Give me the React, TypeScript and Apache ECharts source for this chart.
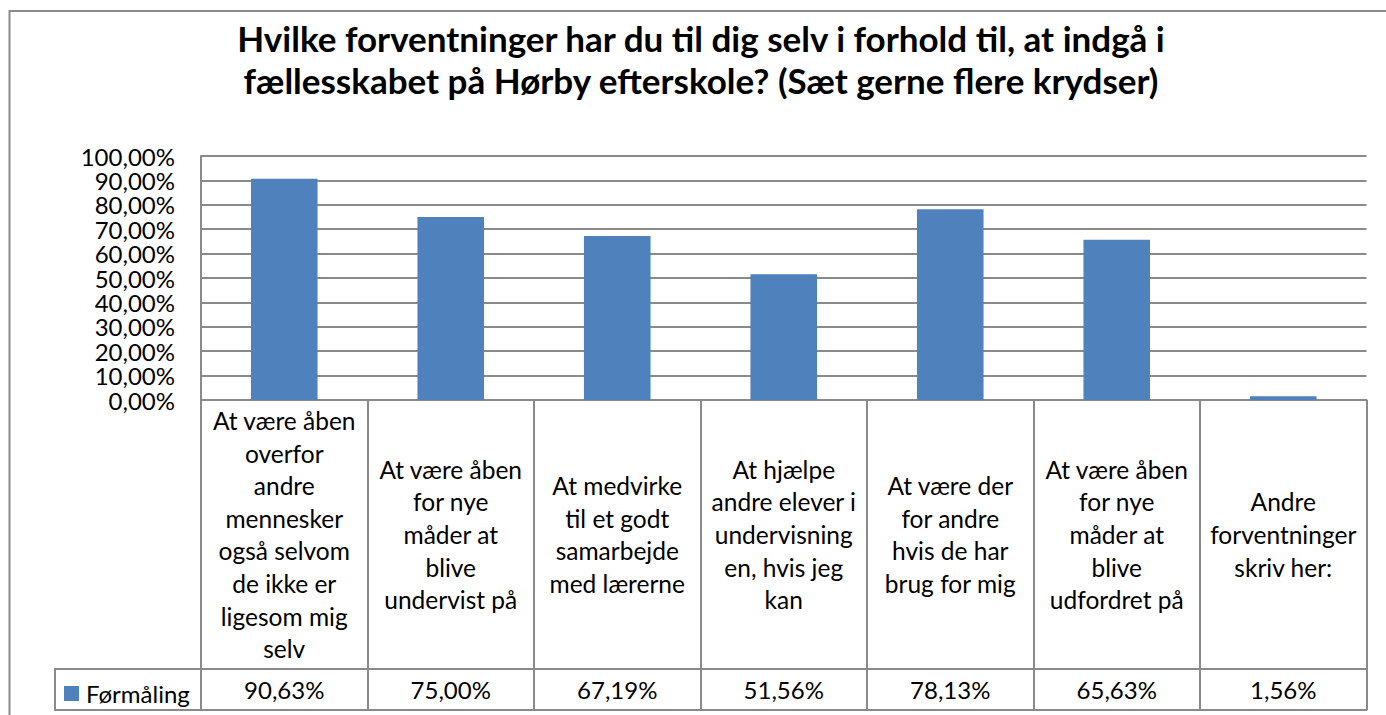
import React, { useEffect, useRef } from "react";
import * as echarts from "echarts";

const titleText =
  "Hvilke forventninger har du til dig selv i forhold til, at indgå i\nfællesskabet på Hørby efterskole? (Sæt gerne flere krydser)";
const seriesName = "Førmåling";
const categories = [
  "At være åben\noverfor\nandre\nmennesker\nogså selvom\nde ikke er\nligesom mig\nselv",
  "At være åben\nfor nye\nmåder at\nblive\nundervist på",
  "At medvirke\ntil et godt\nsamarbejde\nmed lærerne",
  "At hjælpe\nandre elever i\nundervisning\nen, hvis jeg\nkan",
  "At være der\nfor andre\nhvis de har\nbrug for mig",
  "At være åben\nfor nye\nmåder at\nblive\nudfordret på",
  "Andre\nforventninger\nskriv her:",
];
const values = [90.63, 75.0, 67.19, 51.56, 78.13, 65.63, 1.56];
const yTicks = [0, 10, 20, 30, 40, 50, 60, 70, 80, 90, 100];

const fmt = (v: number) => v.toFixed(2).replace(".", ",") + "%";

const GRAY = "#8a8a8a";
const FONT = "Lato, 'Noto Sans', sans-serif";
const PLOT_L = 201;
const PLOT_R = 1366.5;
const PLOT_T = 156;
const PLOT_B = 400;
const ROW1 = 669;
const ROW2 = 710;
const LEG_L = 55;

export default function App() {
  const ref = useRef<HTMLDivElement>(null);
  useEffect(() => {
    if (!ref.current) return;
    const chart = echarts.init(ref.current, null, { renderer: "svg" });
    chart.setOption({
      animation: false,
      backgroundColor: "#fff",
      title: {
        text: titleText,
        left: 696,
        top: 12,
        textAlign: "center",
        textStyle: {
          fontFamily: FONT,
          fontWeight: "bold",
          fontSize: 35,
          lineHeight: 42,
          color: "#000",
        },
      },
      legend: {
        left: 64,
        top: ROW1 + (ROW2 - ROW1) / 2 - 8,
        padding: 0,
        itemWidth: 15,
        itemHeight: 15,
        icon: "rect",
        itemGap: 0,
        textStyle: { fontFamily: FONT, fontSize: 24, color: "#000", padding: [0, 0, 0, 2] },
        data: [seriesName],
      },
      grid: {
        left: PLOT_L,
        right: 1386 - PLOT_R,
        top: PLOT_T,
        bottom: 715 - PLOT_B,
        containLabel: false,
      },
      xAxis: [
        {
          type: "category",
          data: categories,
          position: "bottom",
          axisLine: { show: true, lineStyle: { color: GRAY, width: 2 } },
          axisTick: {
            show: true,
            interval: 0,
            length: ROW2 - PLOT_B,
            lineStyle: { color: GRAY, width: 2 },
          },
          axisLabel: {
            interval: 0,
            margin: (ROW1 - PLOT_B) / 2,
            verticalAlign: "middle",
            align: "center",
            fontFamily: FONT,
            fontSize: 24.5,
            lineHeight: 32.6,
            color: "#000",
          },
          splitLine: { show: false },
        },
        {
          type: "category",
          data: values.map(fmt),
          position: "bottom",
          offset: ROW1 - PLOT_B,
          axisLine: { show: true, lineStyle: { color: GRAY, width: 2 } },
          axisTick: { show: false },
          axisLabel: {
            interval: 0,
            margin: (ROW2 - ROW1) / 2,
            verticalAlign: "middle",
            fontFamily: FONT,
            fontSize: 24,
            color: "#000",
          },
        },
        {
          type: "category",
          data: categories.map(() => ""),
          position: "bottom",
          offset: ROW2 - PLOT_B,
          axisLine: { show: true, lineStyle: { color: GRAY, width: 2 } },
          axisTick: { show: false },
          axisLabel: { show: false },
        },
      ],
      yAxis: {
        type: "value",
        min: yTicks[0],
        max: yTicks[yTicks.length - 1],
        interval: yTicks[1] - yTicks[0],
        axisLine: { show: true, lineStyle: { color: GRAY, width: 2 } },
        axisTick: { show: false },
        axisLabel: {
          formatter: (v: number) => fmt(v),
          margin: 26,
          fontFamily: FONT,
          fontSize: 24,
          lineHeight: 22,
          color: "#000",
        },
        splitLine: { show: true, lineStyle: { color: GRAY, width: 2 } },
      },
      series: [
        {
          name: seriesName,
          type: "bar",
          xAxisIndex: 0,
          data: values,
          barWidth: "40%",
          itemStyle: { color: "#4f81bd" },
        },
      ],
      graphic: [
        {
          type: "rect",
          z: -1,
          shape: { x: 9.5, y: 11, width: 1400, height: 720 },
          style: { fill: "none", stroke: GRAY, lineWidth: 2 },
          silent: true,
        },
        {
          type: "rect",
          shape: { x: LEG_L, y: ROW1, width: PLOT_L - LEG_L, height: ROW2 - ROW1 },
          style: { fill: "none", stroke: GRAY, lineWidth: 2 },
          silent: true,
        },
      ],
    });
    return () => chart.dispose();
  }, []);
  return (
    <div
      ref={ref}
      style={{ position: "fixed", left: 0, top: 0, width: 1386, height: 715 }}
    />
  );
}
